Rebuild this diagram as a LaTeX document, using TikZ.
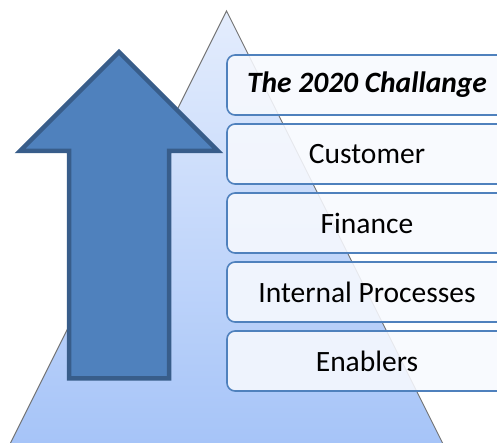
\documentclass[tikz,border=0pt]{standalone}
\usepackage{fontspec}
\setmainfont{Carlito}
\definecolor{triTop}{HTML}{E4EDFD}
\definecolor{triBot}{HTML}{A6C4F8}
\definecolor{arrFill}{HTML}{4F81BD}
\definecolor{arrLine}{HTML}{385D8A}
\definecolor{boxLine}{HTML}{4F81BD}
\definecolor{boxFill}{HTML}{F7F9FE}
\tikzset{
  layerbox/.style={draw=boxLine, line width=1.6pt, fill=boxFill, fill opacity=0.88, text opacity=1,
    rounded corners=8pt, minimum width=280pt, minimum height=60pt, inner sep=0pt,
    font=\fontsize{29.5}{33}\selectfont, text=black},
}
\begin{document}
\begin{tikzpicture}[x=1pt,y=1pt]
\clip (0,0) rectangle (497,443);
% pyramid
\path[top color=triTop, bottom color=triBot, draw=gray!90!black, line width=0.9pt]
  (226.5,432) -- (443,-1) -- (10,-1) -- cycle;
% up arrow
\path[fill=arrFill, draw=arrLine, line width=4.5pt, line join=miter]
  (119,391) -- (218,292) -- (169,292) -- (169,64.5) -- (69,64.5) -- (69,292) -- (20,292) -- cycle;
% layer boxes
\node[layerbox] (b1) at (367,358) {\textbf{\textit{The 2020 Challange}}};
\node[layerbox] (b2) at (367,289) {Customer};
\node[layerbox] (b3) at (367,220) {Finance};
\node[layerbox] (b4) at (367,151) {Internal Processes};
\node[layerbox] (b5) at (367,82) {Enablers};
\end{tikzpicture}
\end{document}
